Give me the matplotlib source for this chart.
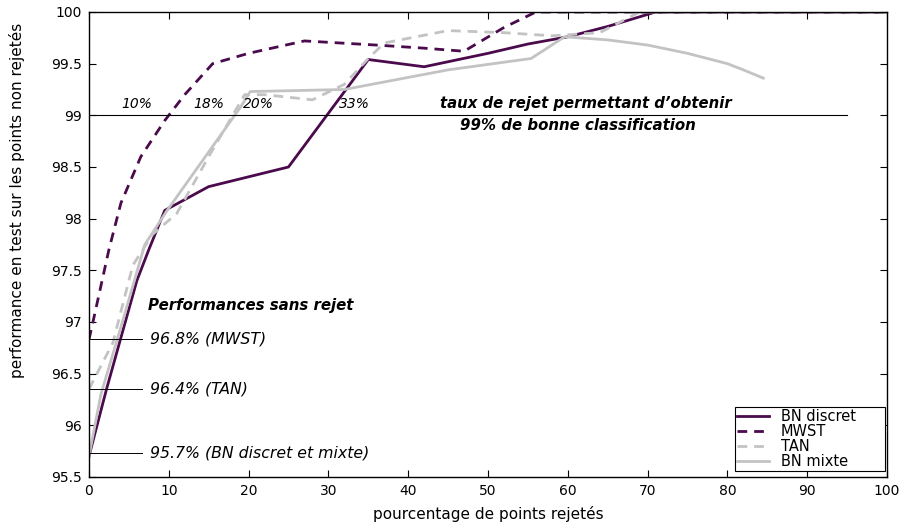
import numpy as np
import matplotlib.pyplot as plt

plt.rcParams['font.family'] = ['DejaVu Sans']

# courbes
bn_x = [0, 2.2, 6, 7.5, 9.5, 15, 25, 35, 42, 50, 55, 60, 65, 71, 100]
bn_y = [95.7, 96.35, 97.4, 97.7, 98.08, 98.31, 98.5, 99.54, 99.47, 99.6, 99.69, 99.76, 99.86, 100, 100]

mwst_x = [0, 0.5, 2.5, 4, 6.5, 9.5, 12, 15.5, 20, 27, 36, 42, 47, 52, 56, 100]
mwst_y = [96.83, 97.0, 97.7, 98.15, 98.6, 98.95, 99.2, 99.5, 99.6, 99.72, 99.68, 99.65, 99.62, 99.85, 100, 100]

tan_x = [0, 3, 5.5, 8, 11, 15, 19.5, 22, 28, 32, 35, 37, 45, 52, 58, 64, 69, 100]
tan_y = [96.35, 96.8, 97.55, 97.85, 98.05, 98.6, 99.2, 99.2, 99.15, 99.3, 99.55, 99.7, 99.82, 99.8, 99.77, 99.8, 100, 100]

mix_x = [0, 1.5, 4, 7, 9.8, 19, 20.2, 32, 45, 55.4, 59.6, 65, 70, 75, 80, 82, 84.5]
mix_y = [95.7, 96.3, 96.95, 97.75, 98.08, 99.08, 99.23, 99.25, 99.44, 99.55, 99.76, 99.73, 99.68, 99.6, 99.5, 99.44, 99.36]

seuil_labels = ['10%', '18%', '20%', '33%']
seuil_x = [4.1, 13.1, 19.3, 31.3]

sans_rejet = [96.84, 96.35, 95.73]
sans_rejet_txt = ['96.8% (MWST)', '96.4% (TAN)', '95.7% (BN discret et mixte)']

violet = '#4a0a4c'
gris = '#c3c3c3'

fig = plt.figure(figsize=(9.05, 5.24), dpi=100)
ax = fig.add_axes([0.0983, 0.0897, 0.8818, 0.8874])

ax.plot(bn_x, bn_y, color=violet, lw=2, label='BN discret')
ax.plot(mwst_x, mwst_y, color=violet, lw=2, ls=(0, (3.5, 2.5)), label='MWST')
ax.plot(tan_x, tan_y, color=gris, lw=2, ls=(0, (3.5, 2.5)), label='TAN')
ax.plot(mix_x, mix_y, color=gris, lw=2, label='BN mixte')

ax.plot([0, 95], [99, 99], color='black', lw=0.8)
for lab, x in zip(seuil_labels, seuil_x):
    ax.text(x, 99.04, lab, style='italic', fontsize=10, va='bottom')
ax.text(62.3, 99.04, 'taux de rejet permettant d\u2019obtenir', style='italic',
        weight='bold', fontsize=10.7, ha='center', va='bottom')
ax.text(61.3, 98.97, '99% de bonne classification', style='italic',
        weight='bold', fontsize=10.8, ha='center', va='top')

ax.text(7.4, 97.16, 'Performances sans rejet', style='italic', weight='bold',
        fontsize=10.8, va='center')
for y, t in zip(sans_rejet, sans_rejet_txt):
    ax.plot([0, 6.7], [y, y], color='black', lw=0.7)
    ax.text(7.7, y, t, style='italic', fontsize=11.3, va='center')

ax.set_xlim(0, 100)
ax.set_ylim(95.5, 100)
ax.set_xticks(np.arange(0, 101, 10))
ax.set_yticks(np.arange(95.5, 100.01, 0.5))
ax.set_yticklabels(['%g' % v for v in np.arange(95.5, 100.01, 0.5)])
ax.tick_params(direction='in', top=True, right=True, length=5, labelsize=10, pad=5)
for s in ax.spines.values():
    s.set_linewidth(1)

ax.set_xlabel('pourcentage de points rejetés', fontsize=11, labelpad=6)
ax.set_ylabel('performance en test sur les points non rejetés', fontsize=11)
ax.yaxis.set_label_coords(-0.08, 0.594)

leg = ax.legend(loc='lower left', bbox_to_anchor=(0.8095, 0.0129, 0.188, 0.1355),
                mode='expand', fontsize=10.5, fancybox=False, edgecolor='black',
                framealpha=1, borderaxespad=0, handlelength=2.2, labelspacing=0.0,
                borderpad=0.15, handletextpad=0.8)
leg.get_frame().set_linewidth(0.8)

fig.savefig('out.png', dpi=100)
